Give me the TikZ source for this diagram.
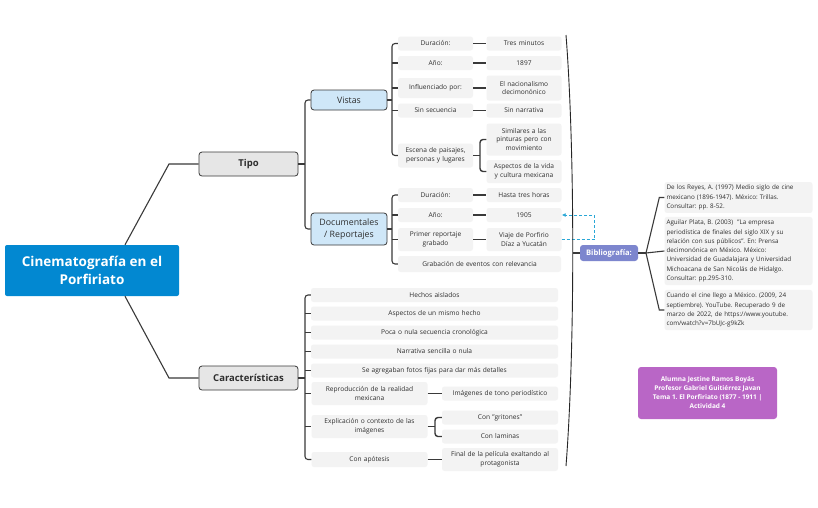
\documentclass[tikz,border=0pt]{standalone}
\usepackage{fontspec}
\setmainfont{Open Sans}
\frenchspacing
\usetikzlibrary{arrows.meta}

\definecolor{cineblue}{HTML}{0288D1}
\definecolor{ramagray}{HTML}{E6E6E6}
\definecolor{subblue}{HTML}{CFE7F8}
\definecolor{leafgray}{HTML}{F3F3F3}
\definecolor{linegray}{HTML}{3A3A3A}
\definecolor{textgray}{HTML}{2E2E2E}
\definecolor{bibblue}{HTML}{7D86CE}
\definecolor{autpurple}{HTML}{B966C6}
\definecolor{dashcyan}{HTML}{2AA7D6}

\begin{document}
\begin{tikzpicture}[x=1pt,y=-1pt]
\tikzstyle{conn}=[draw=linegray,line width=1.1pt]
\tikzstyle{bline}=[conn,rounded corners=3pt]
\tikzstyle{pair}=[draw=linegray,line width=1.6pt]
\tikzstyle{cine}=[fill=cineblue,rounded corners=2pt,minimum width=174pt,minimum height=51pt,align=center,text=white,font=\fontsize{13.5}{18}\selectfont\bfseries]
\tikzstyle{rama}=[fill=ramagray,draw=linegray,line width=0.8pt,rounded corners=3pt,minimum width=99pt,minimum height=24pt,text=textgray,font=\fontsize{9.5}{11}\selectfont\bfseries]
\tikzstyle{sub}=[fill=subblue,draw=linegray,line width=0.8pt,rounded corners=3pt,minimum width=76pt,minimum height=20pt,align=center,text=textgray,font=\fontsize{8.8}{12.5}\selectfont]
\tikzstyle{leaf}=[fill=leafgray,rounded corners=2.5pt,inner xsep=2pt,inner ysep=1.5pt,minimum height=14pt,align=center,text=textgray,font=\fontsize{6.6}{8.6}\selectfont]
\tikzstyle{narrow}=[text width=71pt]
\tikzstyle{half}=[text width=112pt]
\tikzstyle{wide}=[text width=243pt]
\tikzstyle{ref}=[leaf,text width=144pt,align=left,inner xsep=2pt,inner ysep=3pt,font=\fontsize{6.3}{9.3}\selectfont]
\tikzstyle{tag}=[rounded corners=3pt,align=center,text=white,font=\fontsize{7.6}{9}\selectfont\bfseries]

\fill[white] (0,0) rectangle (818,507);
\useasboundingbox (0,0) rectangle (818,507);

% main branches
\node[cine] (cine) at (92,270.5) {Cinematografía en el\\Porfiriato};
\node[rama] (tipo) at (248.5,164) {Tipo};
\node[rama] (car) at (248.5,378) {Características};
\draw[conn] ([xshift=33pt]cine.north) -- (169,164) -- (tipo.west);
\draw[conn] ([xshift=33pt]cine.south) -- (169,378) -- (car.west);

% Tipo
\node[sub] (vistas) at (349,100) {Vistas};
\node[sub,minimum height=32pt] (doc) at (349,229) {Documentales\\/ Reportajes};
\coordinate (ktipo) at (305,164);
\draw[conn] (tipo.east) -- (ktipo);
\draw[bline] (vistas.west) -- (vistas.west -| ktipo) -- (doc.west -| ktipo) -- (doc.west);

% Vistas
\node[leaf,narrow] (vdur) at (435.5,43.5) {Duración:};
\node[leaf,narrow] (vdurb) at (524,43.5) {Tres minutos};
\node[leaf,narrow] (vano) at (435.5,63) {Año:};
\node[leaf,narrow] (vanob) at (524,63) {1897};
\node[leaf,narrow,minimum height=20pt] (vinf) at (435.5,88) {Influenciado por:};
\node[leaf,narrow,minimum height=25pt] (vinfb) at (524,88) {El nacionalismo\\decimonónico};
\node[leaf,narrow] (vsin) at (435.5,110.5) {Sin secuencia};
\node[leaf,narrow] (vsinb) at (524,110.5) {Sin narrativa};
\node[leaf,narrow,minimum height=24pt] (vesc) at (435.5,155.5) {Escena de paisajes,\\personas y lugares};
\node[leaf,narrow,minimum height=32pt] (vsim) at (524,139.5) {Similares a las\\pinturas pero con\\movimiento};
\node[leaf,narrow,minimum height=23pt] (vasp) at (524,171.5) {Aspectos de la vida\\y cultura mexicana};
\coordinate (kvis) at (392,100);
\draw[conn] (vistas.east) -- (kvis);
\draw[bline] (vdur.west) -- (vdur.west -| kvis) -- (vesc.west -| kvis) -- (vesc.west);
\foreach \n in {vano,vinf,vsin}
  \draw[conn] (\n.west -| kvis) -- (\n.west);
\foreach \a/\b in {vdur/vdurb,vano/vanob,vinf/vinfb,vsin/vsinb}
  \draw[pair] (\a.east) -- (\b.west);
\coordinate (kesc) at (480,155.5);
\draw[pair] (vesc.east) -- (kesc);
\draw[bline,line width=1.4pt] (vsim.west) -- (vsim.west -| kesc) -- (vasp.west -| kesc) -- (vasp.west);

% Documentales / Reportajes
\node[leaf,narrow] (ddur) at (435.5,195) {Duración:};
\node[leaf,narrow] (ddurb) at (524,195) {Hasta tres horas};
\node[leaf,narrow] (dano) at (435.5,215) {Año:};
\node[leaf,narrow] (danob) at (524,215) {1905};
\node[leaf,narrow,minimum height=23pt] (dpri) at (435.5,239.5) {Primer reportaje\\grabado};
\node[leaf,narrow,minimum height=23pt] (dprib) at (524,239.5) {Viaje de Porfirio\\Díaz a Yucatán};
\node[leaf,text width=159pt,minimum height=16pt] (dgra) at (479.5,264) {Grabación de eventos con relevancia};
\coordinate (kdoc) at (392,229);
\draw[conn] (doc.east) -- (kdoc);
\draw[bline] (ddur.west) -- (ddur.west -| kdoc) -- (dgra.west -| kdoc) -- (dgra.west);
\foreach \n in {dano,dpri}
  \draw[conn] (\n.west -| kdoc) -- (\n.west);
\foreach \a/\b in {ddur/ddurb,dano/danob,dpri/dprib}
  \draw[pair] (\a.east) -- (\b.west);
\draw[dashcyan,line width=1pt,dash pattern=on 3pt off 2pt,-{Latex[length=4pt,width=4pt]}]
  (dprib.east) -- ++(33,0) |- (danob.east);

% Caracteristicas
\node[leaf,wide] (c1) at (434.5,295) {Hechos aislados};
\node[leaf,wide] (c2) at (434.5,313.5) {Aspectos de un mismo hecho};
\node[leaf,wide] (c3) at (434.5,332.5) {Poca o nula secuencia cronológica};
\node[leaf,wide] (c4) at (434.5,351.5) {Narrativa sencilla o nula};
\node[leaf,wide] (c5) at (434.5,370.5) {Se agregaban fotos fijas para dar más detalles};
\node[leaf,half,minimum height=23pt] (c6) at (369.5,393.5) {Reproducción de la realidad\\mexicana};
\node[leaf,half] (c6b) at (500,393.5) {Imágenes de tono periodístico};
\node[leaf,half,minimum height=23pt] (c7) at (369.5,426.5) {Explicación o contexto de las\\imágenes};
\node[leaf,half] (c7a) at (500,417.5) {Con "gritones"};
\node[leaf,half] (c7b) at (500,436.5) {Con laminas};
\node[leaf,half,minimum height=15pt] (c8) at (369.5,459.5) {Con apótesis};
\node[leaf,half,minimum height=23pt] (c8b) at (500,459.5) {Final de la película exaltando al\\protagonista};
\coordinate (kcar) at (305,378);
\draw[conn] (car.east) -- (kcar);
\draw[bline] (c1.west) -- (c1.west -| kcar) -- (c8.west -| kcar) -- (c8.west);
\foreach \n in {c2,c3,c4,c5,c6,c7}
  \draw[conn] (\n.west -| kcar) -- (\n.west);
\foreach \a/\b in {c6/c6b,c8/c8b}
  \draw[pair] (\a.east) -- (\b.west);
\coordinate (kexp) at (435,426.5);
\draw[pair] (c7.east) -- (kexp);
\draw[bline,line width=1.4pt] (c7a.west) -- (c7a.west -| kexp) -- (c7b.west -| kexp) -- (c7b.west);

% summary line and bibliography
\coordinate (sumtop) at (566,35);
\coordinate (sumbot) at (566,466);
\coordinate (sumtick) at (573,253);
\draw[black!85,line width=0.9pt] (sumtop) .. controls (575,150) and (575,350) .. (sumbot);
\node[tag,fill=bibblue,minimum width=58pt,minimum height=16pt] (bib) at (609,253) {Bibliografía:};
\draw[conn] (sumtick) -- (bib.west);
\node[ref] (ref1) at (738.5,197.5) {De los Reyes, A. (1997) Medio siglo de cine\\mexicano (1896-1947). México: Trillas.\\Consultar: pp. 8-52.};
\node[ref] (ref2) at (738.5,251) {Aguilar Plata, B. (2003)~ "La empresa\\periodística de finales del siglo XIX y su\\relación con sus públicos". En: Prensa\\decimonónica en México. México:\\Universidad de Guadalajara y Universidad\\Michoacana de San Nicolás de Hidalgo.\\Consultar: pp.295-310.};
\node[ref] (ref3) at (738.5,310) {Cuando el cine llego a México. (2009, 24\\septiembre). YouTube. Recuperado 9 de\\marzo de 2022, de https://www.youtube.\\com/watch?v=7bUJc-g9kZk};
\coordinate (kbib) at (646,253);
\draw[conn] (bib.east) -- (kbib);
\draw[conn] (kbib) -- ([xshift=-5pt]ref1.west) -- (ref1.west);
\draw[conn] (kbib) -- (ref2.west);
\draw[conn] (kbib) -- ([xshift=-5pt]ref3.west) -- (ref3.west);

% author
\node[tag,fill=autpurple,minimum width=139pt,minimum height=52pt,font=\fontsize{6.5}{9}\selectfont\bfseries] (aut) at (707.5,393) {Alumna Jestine Ramos Boyás\\Profesor Gabriel Guitiérrez Javan\\Tema 1. El Porfiriato (1877 - 1911 |\\Actividad 4};
\end{tikzpicture}
\end{document}
